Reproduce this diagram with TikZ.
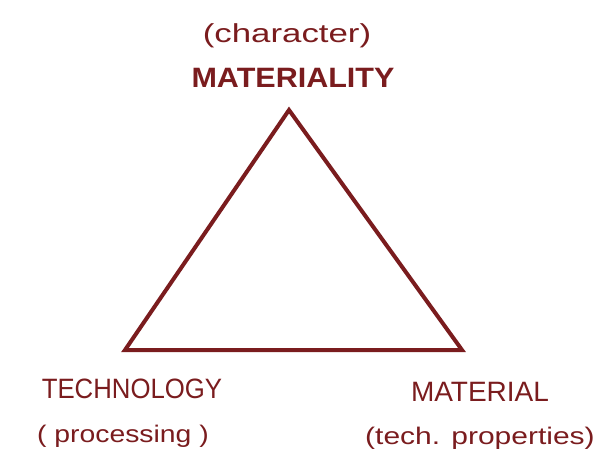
\documentclass[tikz,border=0pt]{standalone}
\usepackage{fontspec}
\setmainfont{Liberation Sans}
\definecolor{inkred}{RGB}{122,28,30}
\begin{document}
\begin{tikzpicture}[x=1pt,y=-1pt,label/.style={text=inkred,inner sep=0pt,anchor=base},side/.style={draw=inkred,line width=4pt,line join=miter}]
\useasboundingbox (0,0) rectangle (598,450);
\coordinate (top) at (289,110);
\coordinate (left) at (125,350);
\coordinate (right) at (462,350);
\draw[side] (top)--(left)--(right)--cycle;
\node[label,font=\fontsize{26}{30}\selectfont] (char) at (287,42) {\scalebox{1.34}[1]{(character)}};
\node[label,font=\fontsize{28}{30}\selectfont\bfseries] (matty) at (293,87) {\scalebox{1.09}[1]{MATERIALITY}};
\node[label,font=\fontsize{28}{30}\selectfont] (tech) at (132,398) {\scalebox{0.92}[1]{TECHNOLOGY}};
\node[label,font=\fontsize{24}{28}\selectfont] (proc) at (123,442) {\scalebox{1.18}[1]{( processing )}};
\node[label,font=\fontsize{28}{30}\selectfont] (mat) at (480,401) {MATERIAL};
\node[label,font=\fontsize{24}{28}\selectfont] (props) at (480,444) {\scalebox{1.25}[1]{(tech. properties)}};
\end{tikzpicture}
\end{document}
